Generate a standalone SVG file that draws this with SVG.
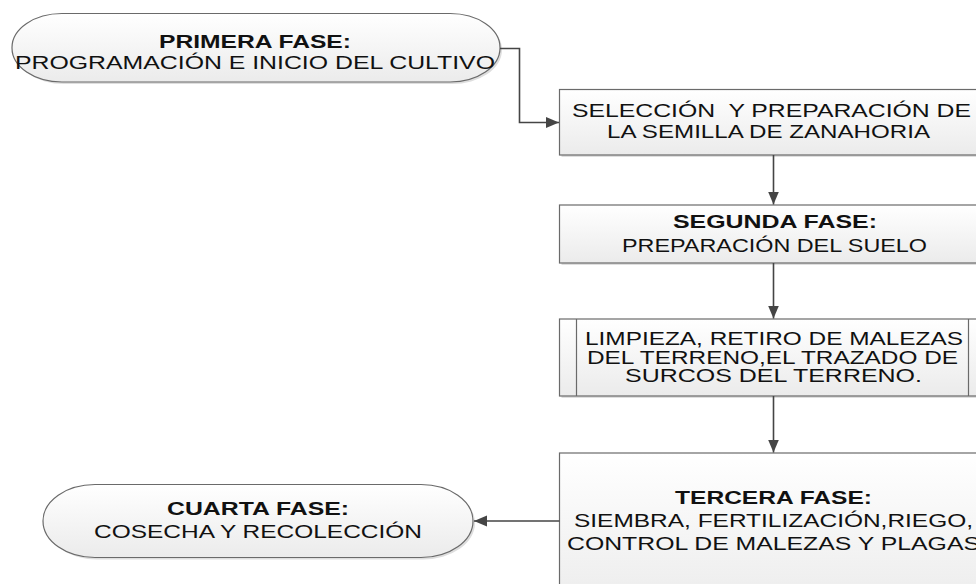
<svg xmlns="http://www.w3.org/2000/svg" width="976" height="584" viewBox="0 0 976 584">
<style>
.t{font-family:"Liberation Sans",Arial,sans-serif;font-size:17.5px;fill:#111;white-space:pre}
.b{font-weight:bold}
.shape{stroke:#6a6a6a;stroke-width:1.2}
.sh{fill:#dedede}
.c{fill:none;stroke:#454545;stroke-width:1.6}
</style>
<defs>
<linearGradient id="g" x1="0" y1="0" x2="0" y2="1">
<stop offset="0" stop-color="#ffffff"/>
<stop offset="1" stop-color="#ebebeb"/>
</linearGradient>
<marker id="ar" markerUnits="userSpaceOnUse" markerWidth="14" markerHeight="12" refX="13" refY="5.5" orient="auto">
<path d="M0,0 L13,5.5 L0,11 z" fill="#454545"/>
</marker>
</defs>
<rect width="976" height="584" fill="#ffffff"/>

<g id="n1">
<rect x="14" y="15.5" width="488" height="68.5" rx="50" ry="34" class="sh"/>
<rect x="12" y="13.5" width="488" height="68.5" rx="50" ry="34" fill="url(#g)" class="shape"/>
<text class="t b" x="159" y="47.5" textLength="192" lengthAdjust="spacingAndGlyphs">PRIMERA FASE:</text>
<text class="t" x="15" y="69" textLength="480" lengthAdjust="spacingAndGlyphs">PROGRAMACIÓN E INICIO DEL CULTIVO</text>
</g>

<g id="n2">
<rect x="561.5" y="92" width="430" height="65" class="sh"/>
<rect x="559.5" y="89.5" width="430" height="65.5" fill="url(#g)" class="shape"/>
<text class="t" x="572" y="117" textLength="399" lengthAdjust="spacingAndGlyphs">SELECCIÓN  Y PREPARACIÓN DE</text>
<text class="t" x="607" y="137.5" textLength="323" lengthAdjust="spacingAndGlyphs">LA SEMILLA DE ZANAHORIA</text>
</g>

<g id="n3">
<rect x="561.5" y="207" width="430" height="58" class="sh"/>
<rect x="559.5" y="205" width="430" height="58" fill="url(#g)" class="shape"/>
<text class="t b" x="673" y="228" textLength="204" lengthAdjust="spacingAndGlyphs">SEGUNDA FASE:</text>
<text class="t" x="622" y="252" textLength="305" lengthAdjust="spacingAndGlyphs">PREPARACIÓN DEL SUELO</text>
</g>

<g id="n4">
<rect x="561.5" y="321" width="430" height="77" class="sh"/>
<rect x="559.5" y="319" width="430" height="77" fill="url(#g)" class="shape"/>
<line x1="576.5" y1="319" x2="576.5" y2="396" class="shape"/>
<line x1="968.5" y1="319" x2="968.5" y2="396" class="shape"/>
<text class="t" x="585" y="344.5" textLength="378" lengthAdjust="spacingAndGlyphs">LIMPIEZA, RETIRO DE MALEZAS</text>
<text class="t" x="587" y="363.5" textLength="371" lengthAdjust="spacingAndGlyphs">DEL TERRENO,EL TRAZADO DE</text>
<text class="t" x="625" y="382" textLength="297" lengthAdjust="spacingAndGlyphs">SURCOS DEL TERRENO.</text>
</g>

<g id="n5">
<rect x="561.5" y="455" width="430" height="160" class="sh"/>
<rect x="559.5" y="453" width="430" height="160" fill="url(#g)" class="shape"/>
<text class="t b" x="675" y="504" textLength="197" lengthAdjust="spacingAndGlyphs">TERCERA FASE:</text>
<text class="t" x="574" y="527" textLength="399" lengthAdjust="spacingAndGlyphs">SIEMBRA, FERTILIZACIÓN,RIEGO,</text>
<text class="t" x="567" y="550" textLength="413" lengthAdjust="spacingAndGlyphs">CONTROL DE MALEZAS Y PLAGAS</text>
</g>

<g id="n6">
<rect x="45" y="486.5" width="430" height="73" rx="52" ry="36.5" class="sh"/>
<rect x="43" y="484.5" width="430" height="73" rx="52" ry="36.5" fill="url(#g)" class="shape"/>
<text class="t b" x="167" y="515" textLength="182" lengthAdjust="spacingAndGlyphs">CUARTA FASE:</text>
<text class="t" x="94" y="538" textLength="328" lengthAdjust="spacingAndGlyphs">COSECHA Y RECOLECCIÓN</text>
</g>

<g id="connectors">
<path class="c" d="M500,48.5 H519.5 V122.5 H559" marker-end="url(#ar)"/>
<path class="c" d="M773.5,155 V204.5" marker-end="url(#ar)"/>
<path class="c" d="M773.5,263 V318.5" marker-end="url(#ar)"/>
<path class="c" d="M773.5,396 V452.5" marker-end="url(#ar)"/>
<path class="c" d="M559.5,521 H474" marker-end="url(#ar)"/>
</g>
</svg>
